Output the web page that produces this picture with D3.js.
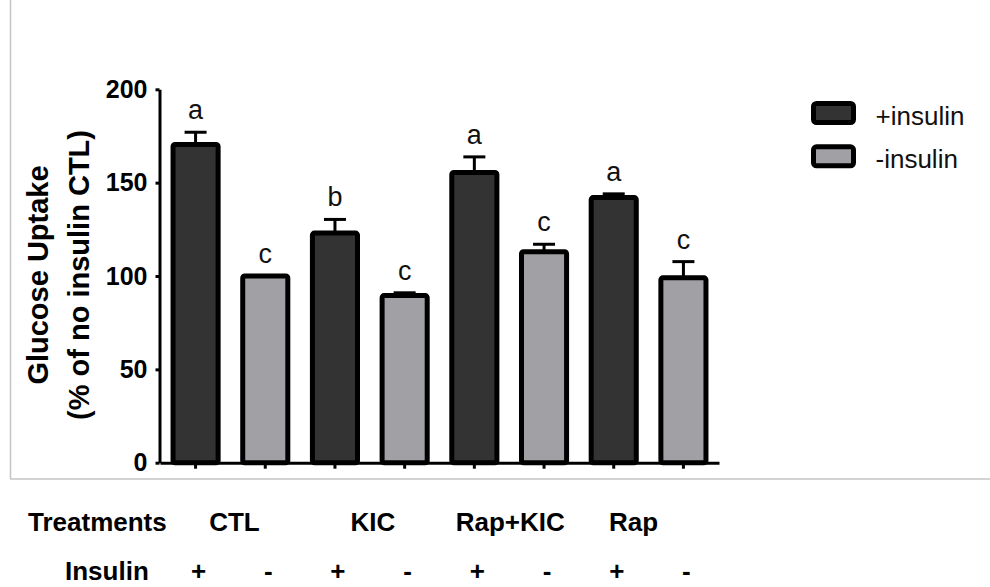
<!DOCTYPE html>
<html>
<head>
<meta charset="utf-8">
<script src="https://cdn.jsdelivr.net/npm/d3@7"></script>
<style>
  html, body { margin: 0; padding: 0; background: #fff; }
  svg { display: block; }
</style>
</head>
<body>
<svg id="chart" width="990" height="587"></svg>
<script>
// data
const treatments = ["CTL", "KIC", "Rap+KIC", "Rap"];
const insulinSigns = ["+", "-"];
const seriesNames = ["+insulin", "-insulin"];
const meanPlus = [170.5, 123, 155.5, 142];
const errPlus = [6.5, 7.3, 8.3, 2];
const meanMinus = [100, 89.5, 113, 99];
const errMinus = [0, 1.5, 4, 8.7];
const lettersPlus = ["a", "b", "a", "a"];
const lettersMinus = ["c", "c", "c", "c"];
const yTicks = [0, 50, 100, 150, 200];

const fills = ["#333333", "#a1a1a5"];
// small nudges so the treatment table lines up like the original
const treatmentDx = [4, 3, 1, -15];

const bars = treatments.flatMap((t, i) => [
    { idx: i * 2, treatment: t, s: 0, mean: meanPlus[i], err: errPlus[i], letter: lettersPlus[i] },
    { idx: i * 2 + 1, treatment: t, s: 1, mean: meanMinus[i], err: errMinus[i], letter: lettersMinus[i] }
]);

const svg = d3.select("#chart");

const x = d3.scaleBand()
    .domain(d3.range(bars.length))
    .range([160, 719])
    .paddingInner(0.353)
    .paddingOuter(0.187);

const y = d3.scaleLinear()
    .domain([0, 200])
    .range([462.7, 89.3]);

// grey frame of the pasted figure
svg.append("line")
    .attr("x1", 10.5).attr("x2", 10.5)
    .attr("y1", 0).attr("y2", 479)
    .attr("stroke", "#c4c4c4").attr("stroke-width", 1.5);
svg.append("line")
    .attr("x1", 10).attr("x2", 990)
    .attr("y1", 479).attr("y2", 479)
    .attr("stroke", "#c4c4c4").attr("stroke-width", 1.5);

// error bars (upper only)
const eb = svg.append("g")
    .attr("stroke", "#000")
    .attr("stroke-width", 3);

eb.selectAll("line.stem")
    .data(bars.filter(d => d.err > 0))
    .join("line")
    .attr("class", "stem")
    .attr("x1", d => x(d.idx) + x.bandwidth() / 2)
    .attr("x2", d => x(d.idx) + x.bandwidth() / 2)
    .attr("y1", d => y(d.mean))
    .attr("y2", d => y(d.mean + d.err));

eb.selectAll("line.cap")
    .data(bars.filter(d => d.err > 0))
    .join("line")
    .attr("class", "cap")
    .attr("x1", d => x(d.idx) + x.bandwidth() / 2 - 11)
    .attr("x2", d => x(d.idx) + x.bandwidth() / 2 + 11)
    .attr("y1", d => y(d.mean + d.err))
    .attr("y2", d => y(d.mean + d.err));

// bars
svg.append("g")
    .selectAll("rect")
    .data(bars)
    .join("rect")
    .attr("x", d => x(d.idx))
    .attr("y", d => y(d.mean))
    .attr("width", x.bandwidth())
    .attr("height", d => y(0) - y(d.mean))
    .attr("rx", 2)
    .attr("fill", d => fills[d.s])
    .attr("stroke", "#000")
    .attr("stroke-width", 5);

// significance letters
svg.append("g")
    .selectAll("text")
    .data(bars)
    .join("text")
    .attr("x", d => x(d.idx) + x.bandwidth() / 2)
    .attr("y", d => y(d.mean + d.err) - 13)
    .attr("text-anchor", "middle")
    .attr("font-family", "Liberation Sans, Arial, sans-serif")
    .attr("font-size", 27)
    .attr("fill", "#111")
    .text(d => d.letter);

// y axis
const yAxis = svg.append("g")
    .attr("transform", "translate(159.5,0)")
    .call(d3.axisLeft(y).tickValues(yTicks).tickSize(4).tickSizeOuter(0).tickPadding(8));
yAxis.select(".domain").attr("stroke-width", 3);
yAxis.selectAll(".tick line").attr("stroke-width", 3);
yAxis.selectAll(".tick text")
    .attr("font-family", "Liberation Sans, Arial, sans-serif")
    .attr("font-weight", "bold")
    .attr("font-size", 25)
    .attr("fill", "#000");

// x axis
const xAxis = svg.append("g")
    .attr("transform", `translate(0,${y(0)})`)
    .call(d3.axisBottom(x).tickSize(6).tickSizeOuter(0).tickFormat(""));
xAxis.select(".domain").attr("stroke-width", 3);
xAxis.selectAll(".tick line").attr("stroke-width", 3);

// y axis title
const yTitle = svg.append("text")
    .attr("transform", "translate(0,275) rotate(-90)")
    .attr("text-anchor", "middle")
    .attr("font-family", "Liberation Sans, Arial, sans-serif")
    .attr("font-weight", "bold")
    .attr("font-size", 29)
    .attr("fill", "#000");
yTitle.append("tspan").attr("x", 0).attr("y", 48).text("Glucose Uptake");
yTitle.append("tspan").attr("x", 0).attr("y", 89).text("(% of no insulin CTL)");

// legend
const legend = svg.append("g")
    .selectAll("g")
    .data(seriesNames)
    .join("g")
    .attr("transform", (d, i) => `translate(813.5,${103.5 + i * 43.3})`);
legend.append("rect")
    .attr("width", 40)
    .attr("height", 19)
    .attr("rx", 3)
    .attr("fill", (d, i) => fills[i])
    .attr("stroke", "#000")
    .attr("stroke-width", 5);
legend.append("text")
    .attr("x", 62)
    .attr("y", 21)
    .attr("font-family", "Liberation Sans, Arial, sans-serif")
    .attr("font-size", 26)
    .attr("fill", "#111")
    .text(d => d);

// treatment / insulin table under the chart
const tableFont = "Liberation Sans, Arial, sans-serif";
svg.append("text")
    .attr("x", 28).attr("y", 531)
    .attr("font-family", tableFont).attr("font-weight", "bold").attr("font-size", 26)
    .text("Treatments");
svg.append("text")
    .attr("x", 65).attr("y", 580)
    .attr("font-family", tableFont).attr("font-weight", "bold").attr("font-size", 26)
    .text("Insulin");

svg.append("g")
    .selectAll("text")
    .data(treatments)
    .join("text")
    .attr("x", (d, i) => x(i * 2) + x.step() / 2 + x.bandwidth() / 2 + treatmentDx[i])
    .attr("y", 531)
    .attr("text-anchor", "middle")
    .attr("font-family", tableFont).attr("font-weight", "bold").attr("font-size", 26)
    .text(d => d);

svg.append("g")
    .selectAll("text")
    .data(bars)
    .join("text")
    .attr("x", d => x(d.idx) + x.bandwidth() / 2 + 3)
    .attr("y", 580)
    .attr("text-anchor", "middle")
    .attr("font-family", tableFont).attr("font-weight", "bold").attr("font-size", 26)
    .text(d => insulinSigns[d.s]);
</script>
</body>
</html>
